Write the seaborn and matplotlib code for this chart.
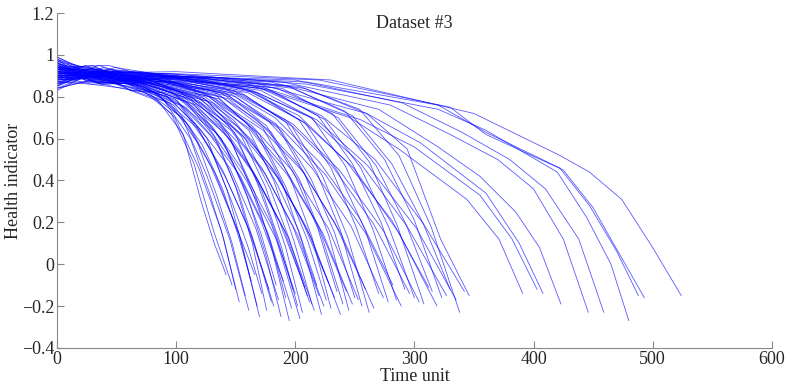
import pandas as pd
import seaborn as sns
import matplotlib.pyplot as plt

# knots: (time, health indicator)
short_units = [
    [(0, .90), (28, .86), (57, .84), (85, .78), (106, .62), (121, .30), (132, .10), (142, -.05)],
    [(0, .94), (30, .88), (60, .85), (90, .78), (112, .60), (128, .34), (140, .12), (150, -.12)],
    [(0, .88), (32, .90), (63, .83), (95, .77), (118, .58), (134, .33), (147, .10), (158, -.15)],
    [(0, .95), (33, .87), (65, .86), (98, .76), (122, .57), (139, .36), (152, .14), (163, -.08)],
    [(0, .91), (34, .89), (67, .85), (101, .78), (126, .60), (143, .35), (156, .08), (168, -.20)],
    [(0, .87), (34, .92), (69, .84), (103, .76), (129, .55), (146, .31), (160, .09), (172, -.14)],
    [(0, .93), (35, .87), (70, .86), (106, .79), (132, .61), (150, .37), (164, .10), (176, -.22)],
    [(0, .90), (36, .91), (72, .84), (108, .75), (135, .58), (153, .33), (167, .07), (180, -.18)],
    [(0, .96), (37, .88), (74, .85), (110, .77), (138, .60), (156, .38), (171, .15), (184, -.10)],
    [(0, .89), (38, .90), (75, .86), (113, .78), (141, .57), (160, .32), (175, .05), (188, -.25)],
    [(0, .92), (38, .86), (77, .87), (115, .79), (144, .62), (163, .36), (179, .11), (192, -.16)],
    [(0, .94), (39, .90), (78, .84), (117, .76), (146, .59), (166, .34), (181, .06), (195, -.27)],
    [(0, .88), (40, .89), (79, .86), (119, .80), (149, .63), (168, .39), (184, .14), (198, -.12)],
    [(0, .91), (40, .92), (81, .85), (121, .77), (152, .58), (172, .35), (188, .09), (202, -.20)],
    [(0, .95), (41, .87), (82, .87), (124, .79), (155, .61), (175, .37), (192, .08), (206, -.23)],
    [(0, .90), (42, .90), (84, .84), (126, .78), (158, .60), (179, .36), (195, .12), (210, -.15)],
    [(0, .93), (43, .88), (86, .86), (128, .80), (161, .64), (182, .40), (199, .11), (214, -.19)],
    [(0, .87), (44, .91), (87, .85), (131, .77), (164, .59), (185, .38), (203, .16), (218, -.10)],
    [(0, .92), (44, .89), (89, .87), (133, .81), (167, .63), (189, .39), (206, .10), (222, -.24)],
    [(0, .96), (45, .90), (90, .85), (136, .79), (170, .62), (192, .37), (210, .12), (226, -.17)],
    [(0, .89), (46, .88), (92, .86), (138, .80), (173, .65), (196, .41), (214, .13), (230, -.21)],
    [(0, .91), (47, .92), (94, .87), (141, .82), (176, .66), (200, .42), (219, .17), (235, -.13)],
    [(0, .94), (48, .89), (96, .85), (144, .79), (180, .63), (204, .40), (223, .12), (240, -.19)],
    [(0, .88), (49, .90), (98, .86), (147, .81), (184, .67), (208, .43), (228, .14), (245, -.22)],
    [(0, .92), (50, .91), (100, .87), (150, .80), (188, .64), (213, .41), (233, .15), (250, -.16)],
    [(0, .95), (51, .88), (102, .87), (154, .82), (192, .68), (218, .44), (238, .16), (256, -.20)],
    [(0, .90), (52, .90), (105, .86), (157, .81), (197, .66), (223, .42), (244, .13), (262, -.23)],
    [(0, .93), (54, .91), (108, .88), (162, .83), (203, .69), (230, .46), (251, .18), (270, -.14)],
    [(0, .89), (56, .89), (111, .87), (167, .82), (209, .67), (236, .44), (259, .16), (278, -.18)],
    [(0, .91), (57, .92), (114, .88), (171, .83), (214, .70), (242, .47), (265, .17), (285, -.17)],
    [(0, .94), (58, .90), (117, .87), (175, .84), (219, .71), (248, .48), (272, .20), (292, -.12)],
    [(0, .88), (60, .91), (120, .88), (180, .83), (225, .69), (255, .46), (279, .17), (300, -.16)],
    [(0, .92), (62, .89), (123, .89), (185, .84), (231, .72), (262, .49), (286, .18), (308, -.19)],
    [(0, .95), (63, .92), (126, .87), (189, .84), (236, .70), (268, .47), (293, .19), (315, -.13)],
    [(0, .90), (65, .90), (129, .88), (194, .85), (242, .73), (275, .50), (300, .21), (323, -.16)],
    [(0, .93), (66, .91), (132, .89), (198, .84), (248, .71), (281, .48), (307, .20), (330, -.12)],
    [(0, .89), (68, .92), (135, .88), (203, .85), (254, .74), (287, .52), (314, .18), (338, -.23)],
    [(0, .91), (69, .90), (138, .89), (208, .84), (260, .72), (294, .55), (322, .12), (346, -.15)],
]

# units that fade more gradually before the final drop
gradual_units = [
    [(0, .85), (22, .93), (51, .86), (74, .82), (96, .72), (115, .48), (132, .15), (147, -.10)],
    [(0, .97), (23, .88), (54, .84), (77, .82), (99, .70), (119, .46), (138, .16), (153, -.18)],
    [(0, .90), (24, .95), (56, .87), (81, .80), (105, .70), (126, .42), (145, .12), (161, -.22)],
    [(0, .83), (25, .90), (58, .85), (83, .82), (108, .68), (129, .47), (149, .20), (166, -.05)],
    [(0, .98), (26, .87), (60, .88), (85, .81), (111, .66), (133, .43), (153, .14), (170, -.25)],
    [(0, .86), (27, .94), (62, .83), (89, .82), (116, .67), (139, .45), (160, .18), (178, -.12)],
    [(0, .92), (27, .89), (64, .89), (91, .78), (118, .65), (142, .41), (164, .13), (182, -.20)],
    [(0, .99), (28, .92), (65, .86), (93, .80), (121, .64), (145, .46), (167, .17), (186, -.17)],
    [(0, .84), (29, .88), (67, .87), (95, .83), (124, .68), (148, .48), (171, .21), (190, -.08)],
    [(0, .93), (30, .95), (69, .84), (99, .79), (128, .62), (154, .42), (177, .15), (197, -.21)],
    [(0, .87), (30, .86), (70, .88), (100, .81), (130, .66), (156, .45), (180, .19), (200, -.14)],
    [(0, .97), (31, .91), (71, .85), (102, .77), (133, .63), (159, .40), (184, .12), (204, -.26)],
    [(0, .85), (31, .93), (73, .89), (104, .82), (135, .69), (162, .47), (187, .20), (208, -.11)],
    [(0, .94), (32, .87), (74, .86), (106, .80), (138, .65), (165, .44), (191, .16), (212, -.18)],
    [(0, .89), (32, .94), (76, .84), (108, .78), (140, .63), (168, .41), (194, .13), (216, -.22)],
    [(0, .98), (33, .89), (77, .88), (110, .81), (143, .67), (172, .46), (198, .18), (220, -.15)],
    [(0, .84), (34, .92), (78, .85), (112, .79), (146, .64), (175, .43), (202, .14), (224, -.20)],
    [(0, .95), (34, .88), (80, .89), (114, .83), (148, .69), (178, .48), (205, .22), (228, -.09)],
    [(0, .88), (35, .95), (82, .86), (117, .80), (151, .66), (182, .45), (210, .17), (233, -.16)],
    [(0, .96), (36, .86), (83, .87), (119, .78), (155, .62), (186, .41), (214, .12), (238, -.24)],
    [(0, .86), (36, .91), (85, .88), (122, .82), (158, .68), (190, .47), (219, .19), (243, -.13)],
    [(0, .93), (37, .93), (87, .85), (124, .80), (161, .65), (193, .43), (223, .15), (248, -.19)],
    [(0, .99), (38, .88), (89, .89), (127, .81), (164, .66), (197, .45), (228, .17), (253, -.17)],
    [(0, .85), (39, .94), (91, .86), (130, .83), (168, .69), (202, .48), (233, .20), (259, -.12)],
    [(0, .92), (40, .89), (93, .88), (133, .79), (173, .64), (207, .44), (239, .14), (266, -.21)],
    [(0, .97), (41, .92), (96, .87), (137, .82), (178, .68), (214, .46), (247, .18), (274, -.16)],
    [(0, .87), (42, .87), (99, .89), (141, .84), (183, .70), (220, .49), (254, .22), (282, -.10)],
    [(0, .94), (43, .95), (101, .86), (145, .80), (188, .65), (225, .43), (260, .14), (289, -.20)],
    [(0, .84), (44, .90), (104, .88), (148, .83), (192, .69), (231, .47), (266, .19), (296, -.14)],
    [(0, .96), (46, .88), (106, .87), (152, .81), (198, .67), (237, .45), (274, .16), (304, -.18)],
    [(0, .89), (47, .93), (109, .89), (156, .84), (203, .71), (243, .49), (281, .21), (312, -.11)],
    [(0, .98), (48, .89), (112, .86), (160, .82), (207, .68), (249, .46), (287, .15), (319, -.20)],
    [(0, .86), (49, .94), (114, .88), (164, .83), (213, .70), (255, .48), (294, .18), (327, -.15)],
    [(0, .93), (50, .90), (117, .89), (168, .82), (218, .69), (261, .47), (302, .17), (335, -.17)],
    [(0, .90), (51, .92), (120, .87), (171, .84), (222, .71), (267, .50), (308, .19), (342, -.13)],
]

long_units = [
    [(0, .92), (80, .90), (160, .86), (246, .70), (287, .55), (344, .31), (371, .12), (391, -.14)],
    [(0, .90), (80, .89), (170, .85), (255, .69), (300, .56), (355, .33), (382, .12), (403, -.12)],
    [(0, .94), (80, .91), (170, .86), (260, .72), (305, .58), (360, .34), (388, .10), (408, -.14)],
    [(0, .89), (85, .90), (180, .87), (270, .74), (320, .56), (355, .42), (385, .25), (405, .08), (423, -.19)],
    [(0, .93), (90, .91), (190, .87), (280, .76), (330, .62), (370, .50), (400, .36), (425, .12), (446, -.23)],
    [(0, .91), (90, .90), (200, .88), (290, .77), (340, .63), (380, .50), (410, .36), (438, .12), (459, -.23)],
    [(0, .90), (95, .91), (210, .86), (320, .74), (360, .64), (420, .44), (445, .22), (465, .00), (480, -.27)],
    [(0, .94), (95, .90), (210, .87), (320, .76), (360, .63), (422, .46), (447, .28), (470, .06), (488, -.15)],
    [(0, .92), (100, .91), (220, .88), (330, .75), (360, .62), (425, .45), (450, .27), (472, .05), (493, -.16)],
    [(0, .91), (100, .92), (230, .88), (350, .72), (422, .52), (447, .44), (474, .31), (500, .08), (524, -.15)],
]

x_ticks = [0, 100, 200, 300, 400, 500, 600]
y_ticks = [-0.4, -0.2, 0, 0.2, 0.4, 0.6, 0.8, 1, 1.2]
y_tick_labels = ["\u22120.4", "\u22120.2", "0", "0.2", "0.4", "0.6", "0.8", "1", "1.2"]

rows = []
for i, knots in enumerate(short_units + gradual_units + long_units):
    for t, h in knots:
        rows.append({"unit": i, "time": t, "health": h})
df = pd.DataFrame(rows)

sns.set_style("ticks")
plt.rcParams["font.family"] = ["Liberation Serif", "DejaVu Serif"]
plt.rcParams["font.size"] = 13

fig = plt.figure(figsize=(7.89, 3.87), dpi=100)
ax = fig.add_axes([0.0722, 0.1008, 0.906, 0.8656])

sns.lineplot(data=df, x="time", y="health", units="unit", estimator=None,
             color="blue", lw=0.6, alpha=0.65, sort=False, ax=ax)

ax.set_xlim(0, 600)
ax.set_ylim(-0.4, 1.2)
ax.set_xticks(x_ticks)
ax.set_yticks(y_ticks)
ax.set_yticklabels(y_tick_labels)
ax.tick_params(direction="in", length=5, width=0.8, color="#888888", pad=2, labelsize=13)
for s in ["top", "right"]:
    ax.spines[s].set_visible(False)
for s in ["left", "bottom"]:
    ax.spines[s].set_color("#888888")
    ax.spines[s].set_linewidth(0.8)

ax.set_xlabel("Time unit", fontsize=13, labelpad=0.5)
ax.set_ylabel("Health indicator", fontsize=13, labelpad=0)
ax.text(0.5, 0.995, "Dataset #3", transform=ax.transAxes, ha="center", va="top", fontsize=13)

fig.savefig("out.png", dpi=100)
